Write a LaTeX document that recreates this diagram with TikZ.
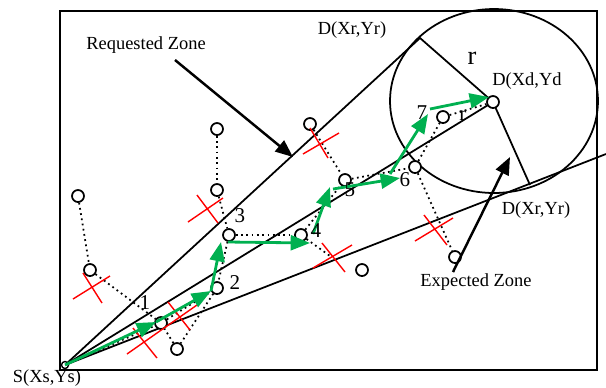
\documentclass[tikz,border=0pt]{standalone}
\usepackage{fontspec}
\setmainfont{Liberation Serif}
\usetikzlibrary{arrows.meta}
\pgfdeclarelayer{bg}
\pgfsetlayers{bg,main}
\definecolor{grnc}{RGB}{0,176,80}
\begin{document}
\begin{tikzpicture}[x=0.02cm,y=-0.02cm,
  nd/.style={circle,draw,fill=white,line width=1pt,minimum size=0.24cm,inner sep=0pt},
  src/.style={circle,draw,fill=white,line width=0.8pt,minimum size=0.14cm,inner sep=0pt},
  lbl/.style={font=\fontsize{10.5}{12}\selectfont,inner sep=0pt},
  num/.style={font=\fontsize{12}{13}\selectfont,inner sep=0pt},
  bigr/.style={font=\fontsize{15}{16}\selectfont,inner sep=0pt},
  frame/.style={line width=1.2pt},
  zone/.style={line width=1pt},
  dots/.style={dotted,line width=1pt},
  grn/.style={draw=grnc,line width=1.6pt,-{Triangle[length=11pt,width=8.5pt,fill=grnc]}},
  cross/.style={red,line width=0.8pt},
  ptr/.style={line width=1.4pt,-{Triangle[length=10pt,width=8pt]}}]
\useasboundingbox (0,0) rectangle (606,387);
\draw[frame] (60,11) rectangle (597,370);

% nodes
\node[src] (S) at (65,365) {};
\node[nd] (D) at (493,102) {};
\node[nd] (n1) at (161,323) {};
\node[nd] (n2) at (217,288) {};
\node[nd] (n3) at (229,235) {};
\node[nd] (n4) at (301,235) {};
\node[nd] (n5) at (345,180) {};
\node[nd] (n6) at (415,167) {};
\node[nd] (n7) at (443,117) {};
\node[nd] (a) at (78,196) {};
\node[nd] (b) at (90,270) {};
\node[nd] (c) at (217,129) {};
\node[nd] (d) at (217,190) {};
\node[nd] (e) at (310,124) {};
\node[nd] (f) at (177,349) {};
\node[nd] (g) at (362,270) {};
\node[nd] (h) at (455,257) {};

\coordinate (T1) at (420,38);
\coordinate (T2) at (530,185);
\coordinate (L) at (606,154);
\coordinate (C) at (494,101);
\coordinate (x6) at (330,256);

% zones
\begin{pgfonlayer}{bg}
\draw[zone] (S.center) -- (T1) -- (D.center);
\draw[zone] (S.center) -- (D.center);
\draw[zone] (S.center) -- (L);
\draw[zone] (D.center) -- (T2);
\draw[zone] (C) ellipse [x radius=2.08cm, y radius=1.84cm];
\end{pgfonlayer}

% dotted links
\draw[dots] (a) -- (b);
\draw[dots] (b) -- (n1);
\draw[dots] (c) -- (d);
\draw[dots] (d) -- (n3);
\draw[dots] (e) -- (n5);
\draw[dots] (n3) -- (n4);
\draw[dots] (n3) -- (n2);
\draw[dots] (n2) -- (f);
\draw[dots] (f) -- (n1);
\draw[dots] (S) -- (n1);
\draw[dots] (n1) -- (n2);
\draw[dots] (n4) -- (n5);
\draw[dots] (n5) -- (n6);
\draw[dots] (n6) -- (n7);
\draw[dots] (n7) -- (D);
\draw[dots] (n6) -- (h);
\draw[dots] (n4) -- (x6);

% red crosses
\draw[cross] (73,299) -- (110,276) (83,273) -- (102,303);
\draw[cross] (188,222) -- (223,198) (197,195) -- (218,223);
\draw[cross] (127,354) -- (197,305) (133,328) -- (157,358);
\draw[cross] (168,302) -- (190,330);
\draw[cross] (303,154) -- (339,133) (310,128) -- (328,158);
\draw[cross] (313,268) -- (352,245) (322,243) -- (345,272);
\draw[cross] (415,241) -- (453,218) (424,215) -- (447,245);

% green route
\coordinate (g1) at (156,322);
\coordinate (g2) at (211,291);
\coordinate (g3) at (221,242);
\coordinate (g3s) at (228,242);
\coordinate (g4) at (310,243);
\coordinate (g4s) at (313,234);
\coordinate (g5) at (330,187);
\coordinate (g5s) at (333,189);
\coordinate (g6) at (400,178);
\coordinate (g6s) at (390,174);
\coordinate (g7) at (428,114);
\coordinate (g7s) at (430,109);
\coordinate (g8) at (489,97);
\draw[grn] (S.center) -- (g1);
\draw[grn] (g1) -- (g2);
\draw[grn] (g2) -- (g3);
\draw[grn] (g3s) -- (g4);
\draw[grn] (g4s) -- (g5);
\draw[grn] (g5s) -- (g6);
\draw[grn] (g6s) -- (g7);
\draw[grn] (g7s) -- (g8);

% pointer arrows
\coordinate (rq) at (175,60);
\coordinate (rqt) at (293,157);
\coordinate (ex) at (453,272);
\coordinate (ext) at (510,157);
\draw[ptr] (rq) -- (rqt);
\draw[ptr] (ex) -- (ext);

% labels
\node[lbl] (tRZ) at (146,45) {Requested Zone};
\node[lbl] (tDr1) at (352,30) {D(Xr,Yr)};
\node[bigr] (tr) at (472,58) {r};
\node[lbl] (tDd) at (527,81) {D(Xd,Yd};
\node[num] (tr2) at (463,116) {r};
\node[lbl] (tDr2) at (536,210) {D(Xr,Yr)};
\node[lbl] (tEZ) at (476,282) {Expected Zone};
\node[lbl] (tS) at (47,378) {S(Xs,Ys)};
\node[num] (l1) at (145,303) {1};
\node[num] (l2) at (235,283) {2};
\node[num] (l3) at (240,216) {3};
\node[num] (l4) at (316,231) {4};
\node[num] (l5) at (350,190) {5};
\node[num] (l6) at (405,180) {6};
\node[num] (l7) at (422,113) {7};
\end{tikzpicture}
\end{document}
